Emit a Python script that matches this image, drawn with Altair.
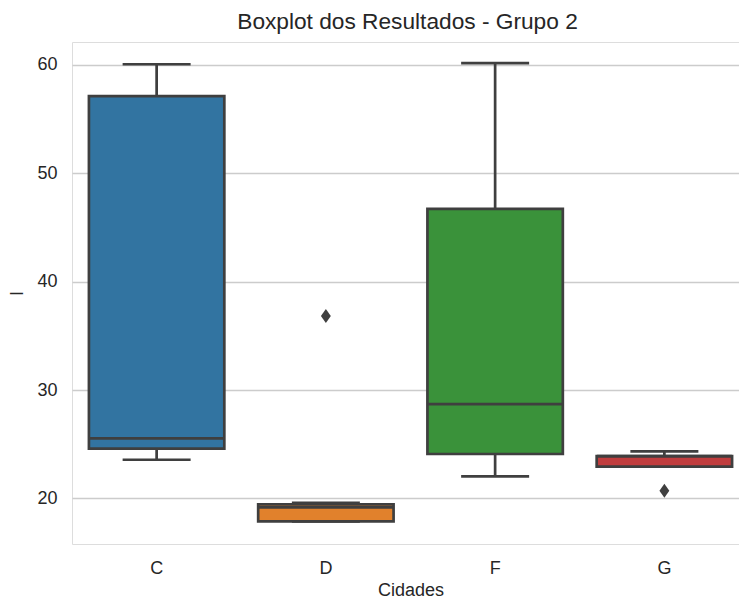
import altair as alt
import pandas as pd

# ---- data ----
cities = ["C", "D", "F", "G"]
whisker_low = [23.57, 17.88, 22.03, 22.93]
q1 = [24.59, 17.88, 24.10, 22.93]
median = [25.54, 19.17, 28.71, 23.91]
q3 = [57.10, 19.45, 46.71, 23.91]
whisker_high = [60.05, 19.60, 60.15, 24.34]
outlier_city = ["D", "G"]
outlier_value = [36.83, 20.71]

colors = ["#3274a1", "#e1812c", "#3a923a", "#c03d3e"]
line_color = "#3f3f3f"
font = "Liberation Sans, Arial, Helvetica, sans-serif"

stats = pd.DataFrame({
    "Cidades": cities,
    "wlo": whisker_low,
    "q1": q1,
    "med": median,
    "q3": q3,
    "whi": whisker_high,
})
outliers = pd.DataFrame({"Cidades": outlier_city, "I": outlier_value})

x_enc = alt.X(
    "Cidades:N",
    sort=cities,
    scale=alt.Scale(domain=cities, range=[0, 677], paddingInner=0, paddingOuter=0),
    axis=alt.Axis(
        title="Cidades", labelAngle=0, grid=False, ticks=False, domain=False,
        labelFontSize=18, titleFontSize=18, labelPadding=15, titlePadding=4,
        labelColor="#262626", titleColor="#262626", labelFont=font, titleFont=font,
        titleFontWeight="normal",
    ),
)
y_scale = alt.Scale(domain=[15.8, 62.1], nice=False, zero=False)
y_axis = alt.Axis(
    title="I", values=[20, 30, 40, 50, 60], grid=True, gridColor="#cccccc",
    gridWidth=1.6, ticks=False, domain=False, labelFontSize=18, titleFontSize=18,
    labelPadding=15, titlePadding=10, labelColor="#262626", titleColor="#262626",
    labelFont=font, titleFont=font, titleFontWeight="normal",
)

base = alt.Chart(stats)

whisker_lo = base.mark_rule(color=line_color, strokeWidth=2.7).encode(
    x=x_enc, y=alt.Y("wlo:Q", scale=y_scale, axis=y_axis), y2="q1:Q"
)
whisker_hi = base.mark_rule(color=line_color, strokeWidth=2.7).encode(
    x=x_enc, y=alt.Y("q3:Q", scale=y_scale), y2="whi:Q"
)
cap_lo = base.mark_tick(color=line_color, thickness=2.7, size=68, opacity=1).encode(
    x=x_enc, y=alt.Y("wlo:Q", scale=y_scale)
)
cap_hi = base.mark_tick(color=line_color, thickness=2.7, size=68, opacity=1).encode(
    x=x_enc, y=alt.Y("whi:Q", scale=y_scale)
)
boxes = base.mark_bar(
    width={"band": 0.8}, stroke=line_color, strokeWidth=2.7, opacity=1
).encode(
    x=x_enc,
    y=alt.Y("q1:Q", scale=y_scale),
    y2="q3:Q",
    color=alt.Color("Cidades:N", scale=alt.Scale(domain=cities, range=colors), legend=None),
)
medians = base.mark_tick(color=line_color, thickness=2.7, size=135, opacity=1).encode(
    x=x_enc, y=alt.Y("med:Q", scale=y_scale)
)
points = alt.Chart(outliers).mark_point(
    shape="M0,-1L0.7,0L0,1L-0.7,0Z", filled=True, color=line_color, size=200, opacity=1
).encode(x=x_enc, y=alt.Y("I:Q", scale=y_scale))

chart = alt.layer(
    whisker_lo, whisker_hi, cap_lo, cap_hi, boxes, medians, points
).properties(
    width=667,
    height=502,
    autosize=alt.AutoSizeParams(type="none"),
    padding={"left": 72, "top": 42, "right": 0, "bottom": 61},
    title=alt.Title(
        "Boxplot dos Resultados - Grupo 2", fontSize=22.7, fontWeight="normal",
        font=font, color="#262626", offset=8, dx=2,
    ),
).configure_view(
    stroke="#cccccc", strokeWidth=2
).configure(background="white")

chart.save("out.html", embed_options={"renderer": "svg", "actions": False})
